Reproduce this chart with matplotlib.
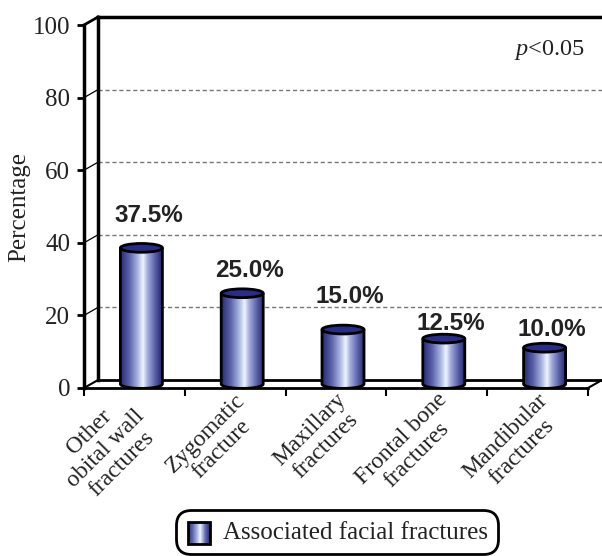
import numpy as np
import matplotlib
matplotlib.use("Agg")
import matplotlib.pyplot as plt
from matplotlib.colors import LinearSegmentedColormap
from matplotlib.patches import Ellipse, PathPatch, Rectangle
from matplotlib.path import Path
from matplotlib.transforms import ScaledTranslation
from matplotlib.legend_handler import HandlerBase

categories = ["Other\nobital wall\nfractures", "Zygomatic\nfracture", "Maxillary\nfractures",
              "Frontal bone\nfractures", "Mandibular\nfractures"]
values = [37.5, 25.0, 15.0, 12.5, 10.0]
value_labels = ["37.5%", "25.0%", "15.0%", "12.5%", "10.0%"]
yticks = [0, 20, 40, 60, 80, 100]
series_name = "Associated facial fractures"

# style: extra lift of each value label above its bar (data units)
label_lift = [9.9, 7.4, 10.3, 5.4, 6.0]

plt.rcParams["mathtext.fontset"] = "custom"
plt.rcParams["mathtext.it"] = "Liberation Serif:italic"
plt.rcParams["mathtext.rm"] = "Liberation Serif"

serif = "Liberation Serif"
cyl_cmap = LinearSegmentedColormap.from_list("cyl", [
    (0.0, "#262a72"), (0.22, "#5a62aa"), (0.42, "#a8b4e0"), (0.55, "#eef6ff"),
    (0.66, "#a4acdc"), (0.85, "#555ba4"), (1.0, "#23266c")])

fig = plt.figure(figsize=(6.02, 5.56), dpi=100)
W, H = 602, 556
ax = fig.add_axes([84 / W, (H - 388) / H, 504 / W, 363 / H])
ax.set_xlim(0, len(values))
ax.set_ylim(0, 100)
for s in ax.spines.values():
    s.set_visible(False)

# pixel -> data conversions
px_x = 504 / len(values)
px_y = 363 / 100
bdx, bdy = 14 / px_x, 8 / px_y      # depth of back wall
mdx, mdy = 7 / px_x, 4 / px_y       # bars sit in the middle

n = len(values)
kw = dict(color="black", clip_on=False, solid_capstyle="projecting")
# back wall
for v in yticks[1:-1]:
    ax.plot([bdx, n + bdx], [v + bdy, v + bdy], color="#777777", lw=1,
            ls=(0, (3, 2)), clip_on=False, zorder=1)
    ax.plot([0, bdx], [v, v + bdy], color="black", lw=0.9, clip_on=False, zorder=1)
ax.plot([bdx, n + bdx], [100 + bdy, 100 + bdy], lw=2.5, **kw, zorder=2)
ax.plot([bdx, bdx], [bdy, 100 + bdy], lw=2.5, **kw, zorder=2)
ax.plot([0, bdx], [100, 100 + bdy], lw=2.0, **kw, zorder=2)
# floor
ax.plot([bdx, n + bdx], [bdy, bdy], lw=2.0, **kw, zorder=2)
ax.plot([0, bdx], [0, bdy], lw=1.5, **kw, zorder=2)
ax.plot([n, n + bdx], [0, bdy], lw=1.5, **kw, zorder=2)

# cylinders
bw = 42 / px_x
eh = 2.2 * mdy
t = np.linspace(0, np.pi, 40)
for i, v in enumerate(values):
    cx = i + 0.5 + mdx
    x0, x1 = cx - bw / 2, cx + bw / 2
    base = mdy
    top = v + mdy
    bx = cx + (bw / 2) * np.cos(t)
    by = base - (eh / 2) * np.sin(t)
    verts = [(x0, base), (x0, top), (x1, top)] + list(zip(bx, by)) + [(x0, base)]
    path = Path(verts)
    grad = np.linspace(0, 1, 200).reshape(1, -1)
    im = ax.imshow(grad, cmap=cyl_cmap, extent=[x0, x1, 0, top], aspect="auto",
                   zorder=3, interpolation="bilinear")
    patch = PathPatch(path, facecolor="none", edgecolor="none", transform=ax.transData)
    ax.add_patch(patch)
    im.set_clip_path(patch)
    outline = Path([(x0, top), (x0, base)] + list(zip(bx[::-1], by[::-1])) + [(x1, top)])
    ax.add_patch(PathPatch(outline, facecolor="none", edgecolor="black", lw=2, zorder=4))
    ax.add_patch(Ellipse((cx, top), bw, eh, facecolor="#2a2d86", edgecolor="black",
                         lw=2, zorder=5))
    ax.text(cx + mdx, v + label_lift[i], value_labels[i], ha="center", va="center",
            fontsize=17.5, fontweight="bold", family="Liberation Sans", color="#222222",
            zorder=6)

ax.set_xlim(0, n)
ax.set_ylim(0, 100)

# front frame
ax.plot([0, 0], [0, 100], lw=2.5, **kw, zorder=6)
ax.plot([0, n], [0, 0], lw=2.0, **kw, zorder=6)

ax.set_yticks(yticks)
ax.set_yticklabels([str(y) for y in yticks], fontsize=18, family=serif, color="#222222")
ax.tick_params(axis="y", length=5, width=2, pad=5, color="black")
ax.set_xticks(np.arange(n + 1), minor=True)
ax.set_xticks(np.arange(n) + 0.5)
ax.set_xticklabels(categories, rotation=45, ha="right", va="top",
                   rotation_mode="default", fontsize=17, family=serif, color="#222222",
                   multialignment="center", linespacing=1.1)
ax.tick_params(axis="x", which="major", length=0, pad=1)
ax.tick_params(axis="x", which="minor", length=6, width=1.5, color="black")
shift = ScaledTranslation(30 / 100, 0, fig.dpi_scale_trans)
for lab in ax.get_xticklabels():
    lab.set_transform(lab.get_transform() + shift)

ax.set_ylabel("Percentage", fontsize=18, family=serif, labelpad=2, color="#222222")
ax.text(4.97, 93, "$p$<0.05", ha="right", va="center", fontsize=17.5, family=serif,
        color="#222222")


class GradientHandler(HandlerBase):
    def create_artists(self, legend, orig_handle, xdescent, ydescent, width, height,
                       fontsize, trans):
        arts = []
        k = 24
        side = height
        x0 = -xdescent + (width - side) / 2
        y0 = -ydescent - 0.1 * height
        for j in range(k):
            arts.append(Rectangle((x0 + side * j / k, y0), side / k + 0.3, side,
                                  facecolor=cyl_cmap((j + 0.5) / k), edgecolor="none",
                                  transform=trans))
        arts.append(Rectangle((x0, y0), side, side, facecolor="none", edgecolor="black",
                              lw=2, transform=trans))
        return arts


handle = Rectangle((0, 0), 1, 1)
leg = fig.legend([handle], [series_name], handler_map={Rectangle: GradientHandler()},
                 loc="center", bbox_to_anchor=(337 / W, 1 - 532 / H),
                 prop={"family": serif, "size": 18}, handlelength=1.0,
                 handleheight=1.0, handletextpad=0.45, borderpad=0.4,
                 fancybox=True, framealpha=1)
leg.get_frame().set_edgecolor("black")
leg.get_frame().set_linewidth(2)
leg.get_frame().set_boxstyle("round", pad=0, rounding_size=0.6)
for txt in leg.get_texts():
    txt.set_color("#222222")

fig.savefig("out.png", dpi=100)
